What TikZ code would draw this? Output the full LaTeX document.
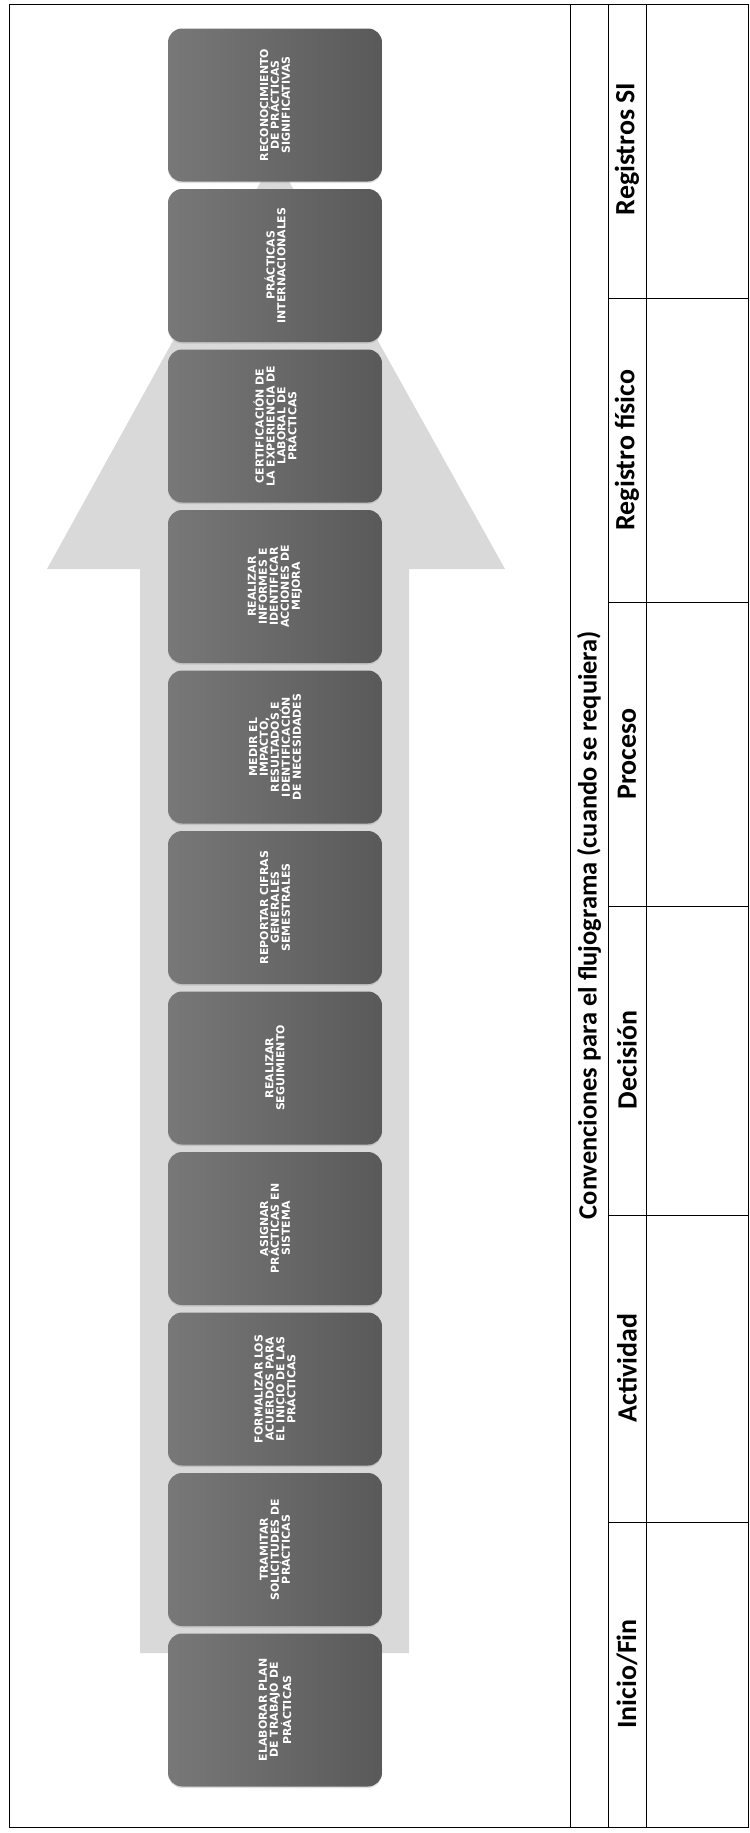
\documentclass[tikz,border=0pt]{standalone}
\usepackage{fontspec}
\setmainfont{Carlito}
\newfontfamily\pasofont{DejaVu Sans}
\usetikzlibrary{shadows}

\begin{document}
\begin{tikzpicture}[x=1bp, y=-1bp,
    paso/.style={rotate=90, rounded corners=14bp, minimum width=153bp, minimum height=214bp,
        left color=black!53, right color=black!65, inner sep=0pt, align=center, text=white,
        font=\pasofont\bfseries\fontsize{11}{11}\selectfont,
        drop shadow={shadow xshift=0bp, shadow yshift=-1.5bp, opacity=.25}},
    titulo/.style={rotate=90, inner sep=0pt, font=\bfseries\fontsize{28}{30}\selectfont},
    linea/.style={line width=0.9bp, draw=black}]
    \useasboundingbox (0,0) rectangle (750,1833);
    % flecha de fondo
    \fill[black!15] (140,1653) -- (140,569) -- (47,569) -- (275,156) -- (505,569)
        -- (409,569) -- (409,1653) -- cycle;
    % actividades del procedimiento
    \foreach \n/\txt in {
        1/{ELABORAR PLAN\\DE TRABAJO DE\\PRÁCTICAS},
        2/{TRAMITAR\\SOLICITUDES DE\\PRÁCTICAS},
        3/{FORMALIZAR LOS\\ACUERDOS PARA\\EL INICIO DE LAS\\PRÁCTICAS},
        4/{ASIGNAR\\PRÁCTICAS EN\\SISTEMA},
        5/{REALIZAR\\SEGUIMIENTO},
        6/{REPORTAR CIFRAS\\GENERALES\\SEMESTRALES},
        7/{MEDIR EL\\IMPACTO,\\RESULTADOS E\\IDENTIFICACIÓN\\DE NECESIDADES},
        8/{REALIZAR\\INFORMES E\\IDENTIFICAR\\ACCIONES DE\\MEJORA},
        9/{CERTIFICACIÓN DE\\LA EXPERIENCIA DE\\LABORAL DE\\PRÁCTICAS},
        10/{PRÁCTICAS\\INTERNACIONALES},
        11/{RECONOCIMIENTO\\DE PRÁCTICAS\\SIGNIFICATIVAS}}
        \node[paso] (b\n) at (275,{1710-160.5*(\n-1)}) {\txt};
    % cuadro de convenciones
    \draw[linea] (9,4) rectangle (748,1827);
    \draw[linea] (570,4) -- (570,1827);
    \draw[linea] (608,4) -- (608,1827);
    \draw[linea] (646,4) -- (646,1827);
    \draw[linea] (608,298) -- (748,298);
    \draw[linea] (608,602) -- (748,602);
    \draw[linea] (608,906) -- (748,906);
    \draw[linea] (608,1215) -- (748,1215);
    \draw[linea] (608,1522) -- (748,1522);
    \node[titulo, font=\bfseries\fontsize{26.5}{30}\selectfont] (conv) at (589,925)
        {Convenciones para el flujograma (cuando se requiera)};
    \node[titulo] (ini) at (627,1674) {Inicio/Fin};
    \node[titulo] (act) at (627,1368) {Actividad};
    \node[titulo] (dec) at (627,1060) {Decisión};
    \node[titulo] (pro) at (627,754) {Proceso};
    \node[titulo] (rfi) at (627,450) {Registro físico};
    \node[titulo] (rsi) at (627,149) {Registros SI};
\end{tikzpicture}
\end{document}
